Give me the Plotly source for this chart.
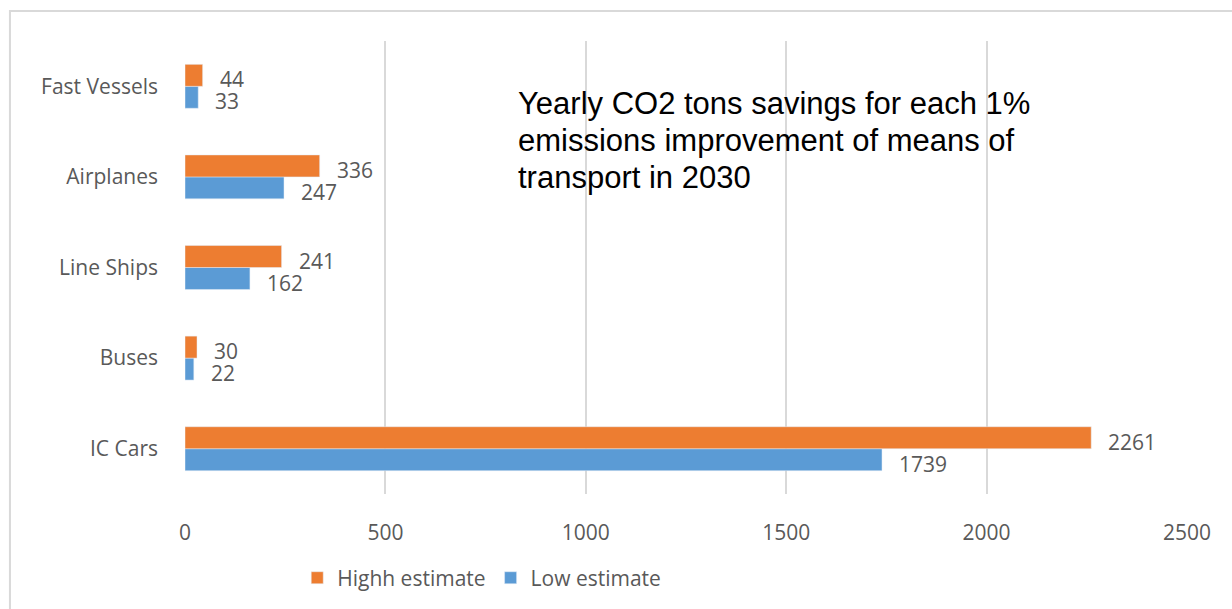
import plotly.graph_objects as go

# Transport categories, bottom to top as drawn on the y axis
categories = ["IC Cars", "Buses", "Line Ships", "Airplanes", "Fast Vessels"]
high_estimate = [2261, 30, 241, 336, 44]
low_estimate = [1739, 22, 162, 247, 33]
x_ticks = [0, 500, 1000, 1500, 2000, 2500]
title_lines = [
    "Yearly CO2 tons savings for each 1%",
    "emissions improvement of means of",
    "transport in 2030",
]

ORANGE = "#ED7D31"
BLUE = "#5B9BD5"
GRID = "#D9D9D9"
TEXT = "#595959"
FONT = "Open Sans"
FSIZE = 21

fig = go.Figure()
# Plotly stacks horizontal groups bottom-up, so the low estimate goes first
fig.add_trace(go.Bar(
    y=categories, x=low_estimate, orientation="h", name="Low estimate",
    marker=dict(color=BLUE), legendrank=2,
))
fig.add_trace(go.Bar(
    y=categories, x=high_estimate, orientation="h", name="Highh estimate",
    marker=dict(color=ORANGE), legendrank=1,
))

# Value labels placed just past the end of each bar
annotations = []
for cat, hi, lo in zip(categories, high_estimate, low_estimate):
    annotations.append(dict(
        x=hi, y=cat, xref="x", yref="y", text=str(hi), showarrow=False,
        xanchor="left", yanchor="middle", xshift=15, yshift=7,
        font=dict(family=FONT, size=FSIZE, color=TEXT),
    ))
    annotations.append(dict(
        x=lo, y=cat, xref="x", yref="y", text=str(lo), showarrow=False,
        xanchor="left", yanchor="middle", xshift=15, yshift=-15,
        font=dict(family=FONT, size=FSIZE, color=TEXT),
    ))

# Chart heading, one annotation per line
for line, ypos in zip(title_lines, [0.863, 0.780, 0.698]):
    annotations.append(dict(
        x=0.330, y=ypos, xref="paper", yref="paper", text=line,
        showarrow=False, xanchor="left", yanchor="middle", align="left",
        font=dict(family="Liberation Sans, Arial", size=31, color="#000000"),
    ))

fig.update_layout(
    width=1232, height=609,
    margin=dict(l=185, r=45, t=41, b=114),
    paper_bgcolor="white", plot_bgcolor="white",
    barmode="group", bargap=0.515, bargroupgap=0,
    font=dict(family=FONT, size=FSIZE, color=TEXT),
    showlegend=True,
    legend=dict(
        orientation="h", x=0.112, xanchor="left", y=-0.183, yanchor="middle",
        font=dict(family=FONT, size=FSIZE, color=TEXT),
        traceorder="normal", itemwidth=30,
    ),
    annotations=annotations,
    shapes=[dict(
        type="rect", xref="paper", yref="paper",
        x0=-0.1747, x1=1.06, y0=-0.3, y1=1.066,
        line=dict(color=GRID, width=2), fillcolor="rgba(0,0,0,0)", layer="below",
    )],
)

fig.update_xaxes(
    range=[0, 2500], tickvals=x_ticks, ticktext=[str(v) for v in x_ticks],
    showgrid=True, gridcolor=GRID, gridwidth=2,
    zeroline=False, showline=False, ticks="", ticklabelstandoff=24,
    tickfont=dict(family=FONT, size=FSIZE, color=TEXT),
)
fig.update_yaxes(
    categoryorder="array", categoryarray=categories,
    showgrid=False, zeroline=False, showline=False, ticks="",
    ticklabelstandoff=26,
    tickfont=dict(family=FONT, size=FSIZE, color=TEXT),
)

fig.write_html("out.html")
